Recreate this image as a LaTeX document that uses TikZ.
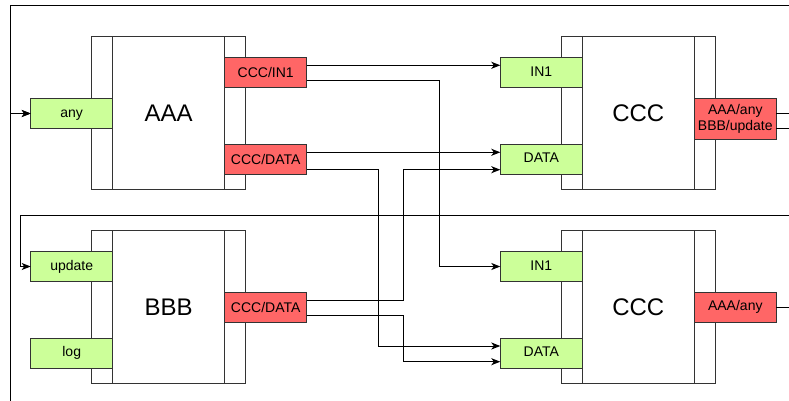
\documentclass[tikz,border=0pt]{standalone}
\usepackage{fontspec}
\setmainfont{Liberation Sans}
\usetikzlibrary{arrows.meta}

\definecolor{portgreen}{HTML}{CCFF99}
\definecolor{portred}{HTML}{FF6666}
\definecolor{edgegray}{HTML}{333333}

\tikzset{
  module/.style = {draw = edgegray, line width = 1pt, fill = white, minimum width = 153.7pt, minimum height = 153.3pt, inner sep = 0pt, outer sep = 0pt},
  core/.style = {module, minimum width = 112pt, font = \fontsize{24}{28}\selectfont},
  port/.style = {draw = edgegray, line width = 1pt, minimum width = 82pt, minimum height = 30.5pt, inner sep = 0pt, outer sep = 0pt, font = \fontsize{14}{15.6}\selectfont},
  inport/.style = {port, fill = portgreen, text height = 0.72em, text depth = 0pt},
  outport/.style = {port, fill = portred, align = center},
  wire/.style = {black, line width = 1pt},
  feed/.style = {wire, -{Stealth[length = 9pt, width = 7pt, inset = 2.5pt]}}
}

\begin{document}
\begin{tikzpicture}[x = 1pt, y = -1pt]
  \useasboundingbox (0, 0) rectangle (789, 401);
  \clip (0, 0) rectangle (789, 401);

  % blocks
  \node [module] (aaaBox) at (168.8, 113.3) {};
  \node [core] (aaaCore) at (168.7, 113.3) {AAA};
  \node [module] (bbbBox) at (168.8, 307.3) {};
  \node [core] (bbbCore) at (168.7, 307.3) {BBB};
  \node [module] (topBox) at (638.5, 113.3) {};
  \node [core] (topCore) at (638.3, 113.3) {CCC};
  \node [module] (botBox) at (638.5, 307.3) {};
  \node [core] (botCore) at (638.3, 307.3) {CCC};

  % ports
  \node [inport] (anyIn) at (71.7, 113.5) {any};
  \node [outport] (aaaIn1) at (265.7, 72.7) {CCC/IN1};
  \node [outport] (aaaData) at (265.7, 159.3) {CCC/DATA};
  \node [inport] (updIn) at (71.7, 266.5) {update};
  \node [inport] (logIn) at (71.7, 353.3) {log};
  \node [outport] (bbbData) at (265.7, 307.5) {CCC/DATA};
  \node [inport] (topIn1) at (541.3, 72.7) {IN1};
  \node [inport] (topData) at (541.3, 159.3) {DATA};
  \node [inport] (botIn1) at (541.3, 266.5) {IN1};
  \node [inport] (botData) at (541.3, 353.3) {DATA};
  \node [outport, minimum height = 40.7pt] (topOut) at (735.3, 118.7) {AAA/any\\BBB/update};
  \node [outport] (botOut) at (735.3, 307.3) {AAA/any};

  % routing columns and pins
  \coordinate (colA) at (378, 0);
  \coordinate (colB) at (403.7, 0);
  \coordinate (colC) at (439, 0);
  \coordinate (topDataA) at ([yshift = 7pt] topData.west);
  \coordinate (topDataB) at ([yshift = -10.4pt] topData.west);
  \coordinate (botDataA) at ([yshift = 7.3pt] botData.west);
  \coordinate (botDataB) at ([yshift = -8.4pt] botData.west);
  \coordinate (ringNE) at (795, 6);
  \coordinate (ringSE) at (795, 410);
  \coordinate (ringW) at (10, 0);
  \coordinate (feedNE) at (800, 215.7);
  \coordinate (feedW) at (20.7, 0);

  % connections
  \draw [feed] ([yshift = 7.4pt] aaaIn1.east) -- ([yshift = 7.4pt] topIn1.west);
  \draw [feed] ([yshift = -7.5pt] aaaIn1.east) -| (colC |- botIn1.west) -- (botIn1.west);
  \draw [feed] ([yshift = 7pt] aaaData.east) -- (topDataA);
  \draw [feed] ([yshift = -10.4pt] aaaData.east) -| (colA |- botDataA) -- (botDataA);
  \draw [feed] ([yshift = 7.5pt] bbbData.east) -| (colB |- topDataB) -- (topDataB);
  \draw [feed] ([yshift = -8.2pt] bbbData.east) -| (colB |- botDataB) -- (botDataB);

  % loops back
  \draw [feed] ([yshift = 5.4pt] topOut.east) -| (ringNE) -| (ringW |- anyIn.west) -- (anyIn.west);
  \draw [feed] (botOut.east) -| (ringSE) -| (ringW |- anyIn.west) -- (anyIn.west);
  \draw [feed] ([yshift = -9.3pt] topOut.east) -| (feedNE) -| (feedW |- updIn.west) -- (updIn.west);
\end{tikzpicture}
\end{document}
